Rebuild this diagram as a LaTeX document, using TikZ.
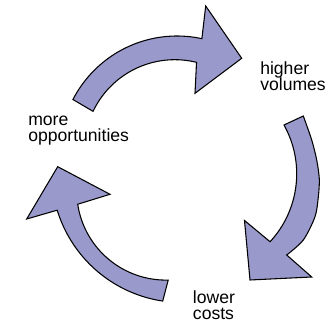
\documentclass[tikz,border=0pt]{standalone}
\usepackage{fontspec}
\setmainfont{Liberation Sans}
\begin{document}
\begin{tikzpicture}[x=0.75pt,y=-0.75pt,
  cyclearrow/.style={fill={rgb,255:red,153;green,153;blue,204},draw=black,line width=0.8pt,line join=miter},
  lbl/.style={font=\fontsize{13.2}{12.5}\selectfont,align=left,inner sep=0pt,anchor=base west}]
\useasboundingbox (0,0) rectangle (329,323);
% top arrow
\filldraw[cyclearrow]
  plot[domain=0:1,samples=40] ({177+117*cos(207.2+75.1*\x)},{153+117*sin(207.2+75.1*\x)})
  -- (205.7,6) -- (241.7,58.3) -- (195,93.3)
  -- plot[domain=0:1,samples=40] ({174.8+90.5*cos(283.9-78.5*\x)},{150.2+90.5*sin(283.9-78.5*\x)})
  -- cycle;
% right arrow
\filldraw[cyclearrow] (284,125) -- (303.3,116)
  -- plot[smooth] coordinates {(303.3,116) (311.7,140) (316.7,160) (319.3,179) (318.3,197) (315,216.7) (303.3,240) (286.7,255)}
  -- (311.7,277) -- (250,280) -- (244.5,220.5)
  -- plot[domain=0:1,samples=40] ({196.7+100*cos(42.8-72*\x)},{173.8+100*sin(42.8-72*\x)})
  -- cycle;
% left arrow
\filldraw[cyclearrow]
  plot[domain=0:1,samples=40] ({182+130.5*cos(98.5+64.5*\x)},{172+130.5*sin(98.5+64.5*\x)})
  -- (26.7,219) -- (57.7,166.7) -- (110,194.3)
  -- plot[domain=0:1,samples=40] ({165.9+89.2*cos(171.4-82.9*\x)},{190.9+89.2*sin(171.4-82.9*\x)})
  -- cycle;
\node[lbl] (hv) at (260,90.7) {higher\\volumes};
\node[lbl] (mo) at (28,142) {more\\opportunities};
\node[lbl] (lc) at (192.7,320) {lower\\costs};
\end{tikzpicture}
\end{document}
